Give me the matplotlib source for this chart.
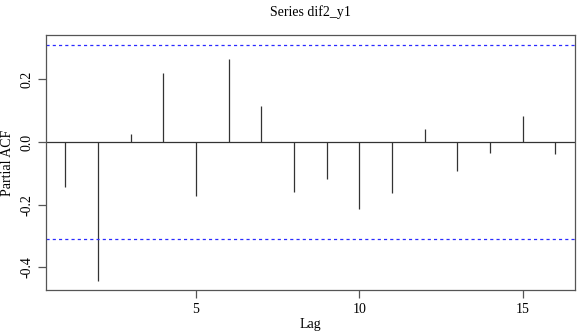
import numpy as np
import matplotlib
matplotlib.use("Agg")
import matplotlib.pyplot as plt

# partial autocorrelations
lags = np.arange(1, 17)
pacf_vals = [-0.143, -0.443, 0.026, 0.219, -0.171, 0.265, 0.115, -0.161,
             -0.117, -0.215, -0.162, 0.040, -0.092, -0.034, 0.084, -0.037]
ci = 0.309
xticks = [5, 10, 15]
yticks = [-0.4, -0.2, 0.0, 0.2]
ytick_labels = ["-0.4", "-0.2", "0.0", "0.2"]

plt.rcParams["font.family"] = ["Liberation Serif", "DejaVu Serif"]
plt.rcParams["font.size"] = 10

fig = plt.figure(figsize=(5.81, 3.36), dpi=100)
ax = fig.add_axes([0.0792, 0.1369, 0.9105, 0.7589])

ax.vlines(lags, 0, pacf_vals, color="#333333", linewidth=0.9)
ax.axhline(0, color="#333333", linewidth=0.9)
ax.axhline(ci, color="#2a2aff", linestyle=(0, (2.5, 2.5)), linewidth=0.9)
ax.axhline(-ci, color="#2a2aff", linestyle=(0, (2.5, 2.5)), linewidth=0.9)

ax.set_xlim(0.41, 16.6)
ax.set_ylim(-0.472, 0.341)
ax.set_xticks(xticks)
ax.set_yticks(yticks)
ax.set_yticklabels(ytick_labels, rotation=90, va="center")
for s in ax.spines.values():
    s.set_color("#555555")
    s.set_linewidth(0.9)
ax.tick_params(length=6, width=0.9, color="#555555", pad=3)

ax.set_title("Series dif2_y1", fontsize=10, pad=14)
ax.set_xlabel("Lag", labelpad=2)
ax.set_ylabel("Partial ACF", labelpad=5)

fig.savefig("out.png", dpi=100)
